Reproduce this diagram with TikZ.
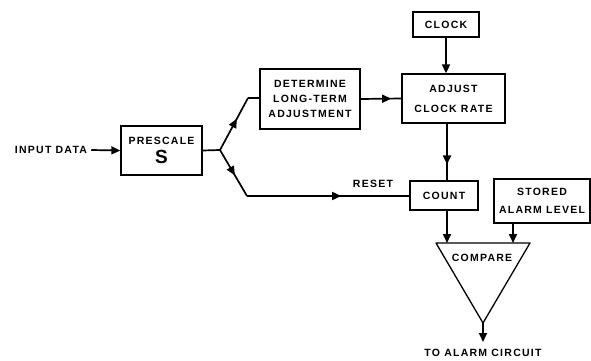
\documentclass[tikz,border=0pt]{standalone}
\usepackage{fontspec}
\setmainfont{Liberation Sans}[LetterSpace=12]
\usetikzlibrary{arrows.meta,decorations.markings}
\tikzset{
  box/.style={draw, line width=1.3pt, inner sep=1pt, align=center,
    font=\bfseries\fontsize{10.5}{15}\selectfont},
  conn/.style={line width=1.7pt},
  tip/.style={-{Triangle[length=9pt,width=8pt]}},
  midtip/.style={postaction={decorate}, decoration={markings,
    mark=at position #1 with {\arrow{Triangle[length=9pt,width=8pt]}}}},
  lbl/.style={font=\bfseries\fontsize{10.5}{11}\selectfont, inner sep=0pt},
}
\begin{document}
\begin{tikzpicture}[x=1pt,y=-1pt]
\useasboundingbox (0,0) rectangle (591,361);
% nodes
\node[lbl] (in) at (51,150) {INPUT DATA};
\node[box, minimum width=81pt, minimum height=49pt] (pre) at (161.5,150.5) {PRESCALE\\[4pt]{\fontsize{19}{19}\selectfont S}};
\node[box, minimum width=100pt, minimum height=60pt] (det) at (310,99) {DETERMINE\\LONG-TERM\\ADJUSTMENT};
\node[box, minimum width=66pt, minimum height=25pt] (clk) at (446,24.5) {CLOCK};
\node[box, minimum width=103pt, minimum height=49pt, font=\bfseries\fontsize{10.5}{20}\selectfont] (adj) at (453.5,98.5) {ADJUST\\CLOCK RATE};
\node[box, minimum width=68pt, minimum height=29pt] (cnt) at (444,195.5) {COUNT};
\node[box, minimum width=96pt, minimum height=44pt, font=\bfseries\fontsize{10.5}{18}\selectfont] (sto) at (542,201) {STORED\\ALARM LEVEL};
\coordinate (tL) at (436,243);
\coordinate (tR) at (530,243);
\coordinate (tB) at (483,323);
\draw[line width=1.3pt, line join=round] (tL) -- (tR) -- (tB) -- cycle;
\node[lbl] (cmp) at (482,258) {COMPARE};
\node[lbl] (rst) at (373,184) {RESET};
\node[lbl] (out) at (483,353) {TO ALARM CIRCUIT};
% helper coordinates
\coordinate (br) at (220,150);
\coordinate (ub) at (248,98);
\coordinate (lb) at (247,196);
\coordinate (vx) at (447,0);
\coordinate (sx) at (513,243);
\coordinate (oe) at (483,342);
% connectors
\draw[conn,tip] ([xshift=4pt]in.east) -- (pre.west);
\draw[conn] (pre.east) -- (br);
\draw[conn, midtip=0.6] (br) -- (ub);
\draw[conn] (ub) -- (det.west |- ub);
\draw[conn, midtip=0.55] (br) -- (lb);
\draw[conn, midtip=0.58] (lb) -- (cnt.west |- lb);
\draw[conn, midtip=0.75] (det.east) -- (adj.west);
\draw[conn,tip] (clk.south) -- (clk.south |- adj.north);
\draw[conn, midtip=0.72] (adj.south -| vx) -- (cnt.north -| vx);
\draw[conn,tip] (cnt.south -| vx) -- (vx |- tL);
\draw[conn,tip] (sto.south -| sx) -- (sx);
\draw[conn,tip] (tB) -- (oe);
\end{tikzpicture}
\end{document}
